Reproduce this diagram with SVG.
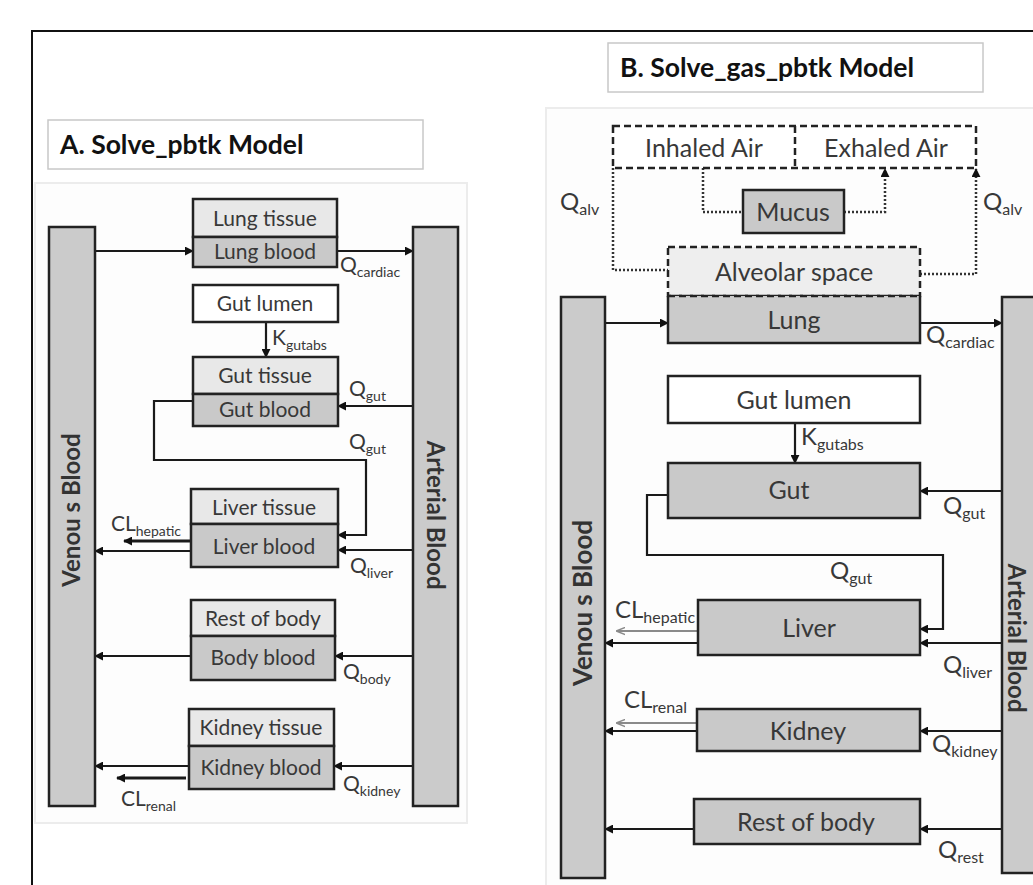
<svg xmlns="http://www.w3.org/2000/svg" width="1033" height="885" viewBox="0 0 1033 885">
<defs>
<style>
text{font-family:Lato,"Open Sans","Liberation Sans",sans-serif;fill:#383838}
.t{font-size:21px;text-anchor:middle}
.tb{font-size:25px;text-anchor:middle}
.title{font-size:26.5px;font-weight:bold;fill:#111}
.bar{fill:#cbcbcb;stroke:#222;stroke-width:2.5}
.tis{fill:#e8e8e8;stroke:#222;stroke-width:2.5}
.bld{fill:#c9c9c9;stroke:#222;stroke-width:2.5}
.wht{fill:#fff;stroke:#222;stroke-width:2.5}
.rot{font-size:24px;font-weight:bold;text-anchor:middle;fill:#333}
.rotb{font-size:26px;font-weight:bold;text-anchor:middle;fill:#333}
.c{fill:none;stroke:#1a1a1a;stroke-width:2.2}
.cl{fill:none;stroke:#1a1a1a;stroke-width:3}
.cg{fill:none;stroke:#8a8a8a;stroke-width:2}
.dash{fill:none;stroke:#222;stroke-width:2.5;stroke-dasharray:7 4}
.dot{fill:none;stroke:#333;stroke-width:2.5;stroke-dasharray:2 2}
.q{font-size:21px}
.qb{font-size:24px}
.s{font-size:14px}
.sb{font-size:16px}
</style>
<marker id="ah" viewBox="0 0 10 10" refX="9" refY="5" markerWidth="9" markerHeight="9" markerUnits="userSpaceOnUse" orient="auto"><path d="M0,0 L10,5 L0,10 z" fill="#111"/></marker>
<marker id="ahg" viewBox="0 0 10 10" refX="9" refY="5" markerWidth="9" markerHeight="9" markerUnits="userSpaceOnUse" orient="auto"><path d="M0,1 L10,5 L0,9" fill="none" stroke="#8a8a8a" stroke-width="1.5"/></marker>
</defs>
<rect width="1033" height="885" fill="#fff"/>
<path d="M32,885 V31 H1033" fill="none" stroke="#111" stroke-width="2"/>

<!-- Panel A -->
<g id="panelA-bg">
<rect x="48" y="120" width="375" height="49" fill="#fff" stroke="#c8c8c8" stroke-width="1.5"/>
<text class="title" x="60" y="154">A. Solve_pbtk Model</text>
<rect x="35" y="183" width="432" height="640" fill="#fdfdfd" stroke="#ececec" stroke-width="2"/>
</g>

<g id="connectorsA">
<line class="c" x1="95" y1="251" x2="193" y2="251" marker-end="url(#ah)"/>
<line class="c" x1="337" y1="251" x2="413" y2="251" marker-end="url(#ah)"/>
<line class="c" x1="266" y1="322" x2="266" y2="357" marker-end="url(#ah)"/>
<line class="c" x1="413" y1="406" x2="338" y2="406" marker-end="url(#ah)"/>
<polyline class="c" points="193,401 154,401 154,460 366,460 366,535 338,535" marker-end="url(#ah)"/>
<line class="c" x1="413" y1="550" x2="338" y2="550" marker-end="url(#ah)"/>
<line class="c" x1="191" y1="551" x2="95" y2="551" marker-end="url(#ah)"/>
<line class="cl" x1="191" y1="541" x2="124" y2="541" marker-end="url(#ah)"/>
<line class="c" x1="413" y1="656" x2="335" y2="656" marker-end="url(#ah)"/>
<line class="c" x1="191" y1="656" x2="95" y2="656" marker-end="url(#ah)"/>
<line class="c" x1="413" y1="766" x2="334" y2="766" marker-end="url(#ah)"/>
<line class="c" x1="189" y1="766" x2="95" y2="766" marker-end="url(#ah)"/>
<line class="cl" x1="186" y1="778" x2="117" y2="778" marker-end="url(#ah)"/>
<text class="q" x="340" y="272">Q<tspan class="s" dy="5">cardiac</tspan></text>
<text class="q" x="272" y="345">K<tspan class="s" dy="5">gutabs</tspan></text>
<text class="q" x="349" y="396">Q<tspan class="s" dy="5">gut</tspan></text>
<text class="q" x="349" y="449">Q<tspan class="s" dy="5">gut</tspan></text>
<text class="q" x="111" y="531">CL<tspan class="s" dy="5">hepatic</tspan></text>
<text class="q" x="350" y="573">Q<tspan class="s" dy="5">liver</tspan></text>
<text class="q" x="343" y="679">Q<tspan class="s" dy="5">body</tspan></text>
<text class="q" x="343" y="791">Q<tspan class="s" dy="5">kidney</tspan></text>
<text class="q" x="121" y="806">CL<tspan class="s" dy="5">renal</tspan></text>
</g>

<g id="venousA">
<rect class="bar" x="49" y="227" width="46" height="579"/>
<text class="rot" transform="translate(80,510) rotate(-90)">Venou s Blood</text>
</g>
<g id="arterialA">
<rect class="bar" x="413" y="227" width="45" height="579"/>
<text class="rot" transform="translate(427,515) rotate(90)">Arterial Blood</text>
</g>
<g id="lungA">
<rect class="tis" x="193" y="199" width="144" height="38"/>
<rect class="bld" x="193" y="237" width="144" height="30"/>
<text class="t" x="265" y="226">Lung tissue</text>
<text class="t" x="265" y="259">Lung blood</text>
</g>
<g id="gutlumenA">
<rect class="wht" x="193" y="285" width="145" height="37"/>
<text class="t" x="265" y="311">Gut lumen</text>
</g>
<g id="gutA">
<rect class="tis" x="193" y="357" width="145" height="37"/>
<rect class="bld" x="193" y="394" width="145" height="32"/>
<text class="t" x="265" y="383">Gut tissue</text>
<text class="t" x="265" y="417">Gut blood</text>
</g>
<g id="liverA">
<rect class="tis" x="191" y="489" width="147" height="35"/>
<rect class="bld" x="191" y="524" width="147" height="43"/>
<text class="t" x="264" y="515">Liver tissue</text>
<text class="t" x="264" y="554">Liver blood</text>
</g>
<g id="bodyA">
<rect class="tis" x="191" y="600" width="144" height="36"/>
<rect class="bld" x="191" y="636" width="144" height="44"/>
<text class="t" x="263" y="626">Rest of body</text>
<text class="t" x="263" y="665">Body blood</text>
</g>
<g id="kidneyA">
<rect class="tis" x="189" y="709" width="145" height="37"/>
<rect class="bld" x="189" y="746" width="145" height="43"/>
<text class="t" x="261" y="735">Kidney tissue</text>
<text class="t" x="261" y="775">Kidney blood</text>
</g>

<!-- Panel B -->
<g id="panelB-bg">
<rect x="608" y="43" width="375" height="49" fill="#fff" stroke="#c8c8c8" stroke-width="1.5"/>
<text class="title" x="620" y="77">B. Solve_gas_pbtk Model</text>
<rect x="546" y="108" width="500" height="790" fill="#fdfdfd" stroke="#ececec" stroke-width="2"/>
</g>

<g id="connectorsB">
<polyline class="dot" points="703,168 703,212 743,212"/>
<polyline class="dot" points="844,212 885,212 885,169" marker-end="url(#ah)"/>
<polyline class="dot" points="613,168 613,270 668,270"/>
<polyline class="dot" points="920,274 976,274 976,169" marker-end="url(#ah)"/>
<line class="c" x1="605" y1="323" x2="668" y2="323" marker-end="url(#ah)"/>
<line class="c" x1="920" y1="323" x2="1002" y2="323" marker-end="url(#ah)"/>
<line class="c" x1="795" y1="423" x2="795" y2="463" marker-end="url(#ah)"/>
<line class="c" x1="1002" y1="491" x2="920" y2="491" marker-end="url(#ah)"/>
<polyline class="c" points="668,495 647,495 647,555 943,555 943,629 920,629" marker-end="url(#ah)"/>
<line class="c" x1="1002" y1="643" x2="920" y2="643" marker-end="url(#ah)"/>
<line class="c" x1="698" y1="643" x2="605" y2="643" marker-end="url(#ah)"/>
<line class="cg" x1="698" y1="631" x2="617" y2="631" marker-end="url(#ahg)"/>
<line class="c" x1="1002" y1="731" x2="920" y2="731" marker-end="url(#ah)"/>
<line class="c" x1="697" y1="731" x2="605" y2="731" marker-end="url(#ah)"/>
<line class="cg" x1="697" y1="723" x2="617" y2="723" marker-end="url(#ahg)"/>
<line class="c" x1="1002" y1="829" x2="920" y2="829" marker-end="url(#ah)"/>
<line class="c" x1="694" y1="829" x2="605" y2="829" marker-end="url(#ah)"/>
<text class="qb" x="560" y="210" fill="#555">Q<tspan class="sb" dy="5">alv</tspan></text>
<text class="qb" x="983" y="210" fill="#555">Q<tspan class="sb" dy="5">alv</tspan></text>
<text class="qb" x="926" y="343">Q<tspan class="sb" dy="5">cardiac</tspan></text>
<text class="qb" x="801" y="445">K<tspan class="sb" dy="5">gutabs</tspan></text>
<text class="qb" x="943" y="514">Q<tspan class="sb" dy="5">gut</tspan></text>
<text class="qb" x="830" y="579">Q<tspan class="sb" dy="5">gut</tspan></text>
<text class="qb" x="615" y="618">CL<tspan class="sb" dy="5">hepatic</tspan></text>
<text class="qb" x="943" y="673">Q<tspan class="sb" dy="5">liver</tspan></text>
<text class="qb" x="624" y="708">CL<tspan class="sb" dy="5">renal</tspan></text>
<text class="qb" x="932" y="752">Q<tspan class="sb" dy="5">kidney</tspan></text>
<text class="qb" x="938" y="858">Q<tspan class="sb" dy="5">rest</tspan></text>
</g>

<g id="airB">
<rect x="613" y="126" width="363" height="42" fill="#fff" stroke="none"/>
<rect class="dash" x="613" y="126" width="363" height="42"/>
<line class="dash" x1="795" y1="126" x2="795" y2="168"/>
<text class="tb" x="704" y="157">Inhaled Air</text>
<text class="tb" x="886" y="157">Exhaled Air</text>
</g>
<g id="mucusB">
<rect class="bld" x="743" y="190" width="101" height="43"/>
<text class="tb" x="793" y="221">Mucus</text>
</g>
<g id="alveolarB">
<rect x="668" y="247" width="252" height="49" fill="#eeeeee"/>
<rect class="dash" x="668" y="247" width="252" height="49"/>
<text class="tb" x="794" y="281">Alveolar space</text>
</g>
<g id="lungB">
<rect x="668" y="296" width="252" height="47" fill="#cbcbcb"/>
<path d="M668,296 V343 H920 V296" fill="none" stroke="#222" stroke-width="2.5"/>
<line class="dash" x1="668" y1="296" x2="920" y2="296"/>
<text class="tb" x="794" y="329">Lung</text>
</g>
<g id="venousB">
<rect class="bar" x="561" y="297" width="44" height="581"/>
<text class="rotb" transform="translate(592,603) rotate(-90)">Venou s Blood</text>
</g>
<g id="arterialB">
<rect class="bar" x="1002" y="297" width="45" height="576"/>
<text class="rotb" style="font-size:24px" transform="translate(1008,638) rotate(90)">Arterial Blood</text>
</g>
<g id="gutlumenB">
<rect class="wht" x="668" y="376" width="252" height="47"/>
<text class="tb" x="794" y="409">Gut lumen</text>
</g>
<g id="gutB">
<rect class="bld" x="668" y="463" width="252" height="55"/>
<text class="tb" x="789" y="499">Gut</text>
</g>
<g id="liverB">
<rect class="bld" x="698" y="600" width="222" height="55"/>
<text class="tb" x="809" y="637">Liver</text>
</g>
<g id="kidneyB">
<rect class="bld" x="697" y="709" width="223" height="42"/>
<text class="tb" x="808" y="740">Kidney</text>
</g>
<g id="restB">
<rect class="bld" x="694" y="799" width="226" height="45"/>
<text class="tb" x="806" y="831">Rest of body</text>
</g>
</svg>
